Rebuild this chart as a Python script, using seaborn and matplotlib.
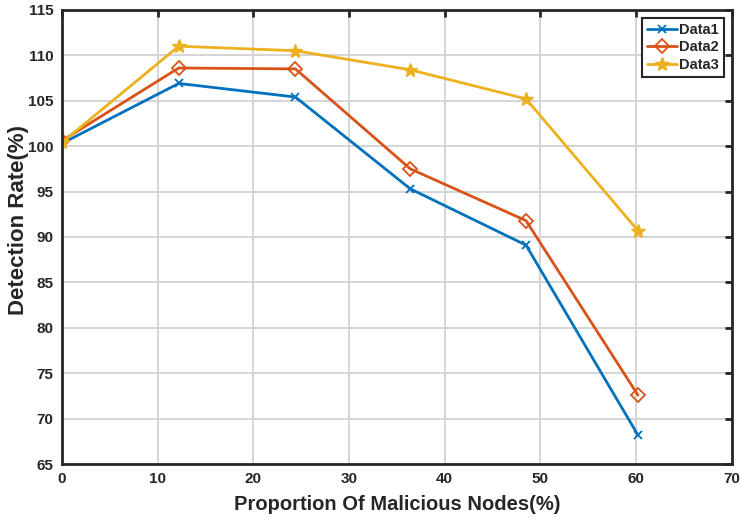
import matplotlib
matplotlib.use("Agg")
import matplotlib.pyplot as plt
import seaborn as sns
import pandas as pd

# Proportion of malicious nodes (%) and detection rates (%) per data set
proportion = [0.0, 12.2, 24.4, 36.4, 48.5, 60.2]
data1 = [100.3, 106.9, 105.4, 95.3, 89.1, 68.2]
data2 = [100.6, 108.6, 108.5, 97.5, 91.8, 72.6]
data3 = [100.4, 111.0, 110.5, 108.4, 105.2, 90.7]
series_names = ["Data1", "Data2", "Data3"]

x_ticks = [0, 10, 20, 30, 40, 50, 60, 70]
y_ticks = [65, 70, 75, 80, 85, 90, 95, 100, 105, 110, 115]

sns.set_theme(style="white")
plt.rcParams["font.family"] = ["Liberation Sans", "DejaVu Sans"]

df = pd.DataFrame({
    "proportion": proportion * 3,
    "rate": data1 + data2 + data3,
    "series": [s for s in series_names for _ in proportion],
})

fig = plt.figure(figsize=(7.4, 5.18), dpi=100)
ax = fig.add_axes([0.0838, 0.104, 0.905, 0.877])

colors = {"Data1": "#0072BD", "Data2": "#D95319", "Data3": "#EDB120"}
styles = {
    "Data1": dict(marker="x", markersize=6, markeredgewidth=1.3),
    "Data2": dict(marker="D", markersize=7, markerfacecolor="none", markeredgewidth=1.3),
    "Data3": dict(marker="*", markersize=10, markeredgewidth=1.0),
}

for name in series_names:
    sub = df[df["series"] == name]
    sns.lineplot(data=sub, x="proportion", y="rate", ax=ax, color=colors[name],
                 linewidth=2.0, label=name, markeredgecolor=colors[name],
                 **styles[name])

ax.set_xlim(0, 70)
ax.set_ylim(65, 115)
ax.set_xticks(x_ticks)
ax.set_yticks(y_ticks)
ax.grid(True, color="#d4d4d4", linewidth=1.4)
ax.set_axisbelow(True)

for sp in ax.spines.values():
    sp.set_visible(True)
    sp.set_color("#262626")
    sp.set_linewidth(2.0)

ax.tick_params(axis="both", direction="in", length=5, width=2.0, color="#262626",
               top=True, right=True, labelsize=11, labelcolor="#262626", pad=6)
for lbl in ax.get_xticklabels() + ax.get_yticklabels():
    lbl.set_fontweight("bold")

ax.set_xlabel("Proportion Of Malicious Nodes(%)", fontsize=14.5, fontweight="bold",
              color="#262626")
ax.set_ylabel("Detection Rate(%)", fontsize=16, fontweight="bold",
              color="#262626")
ax.xaxis.set_label_coords(0.5, -0.068)
ax.yaxis.set_label_coords(-0.05, 0.537)

leg = ax.legend(loc="upper right", bbox_to_anchor=(0.989, 0.983),
                frameon=True, fancybox=False, framealpha=1, borderpad=0.35,
                borderaxespad=0.0, handlelength=2.0, handletextpad=0.2,
                labelspacing=0.25, prop={"weight": "bold", "size": 10.5})
leg.get_frame().set_edgecolor("#262626")
leg.get_frame().set_linewidth(1.5)

fig.savefig("out.png", dpi=100)
